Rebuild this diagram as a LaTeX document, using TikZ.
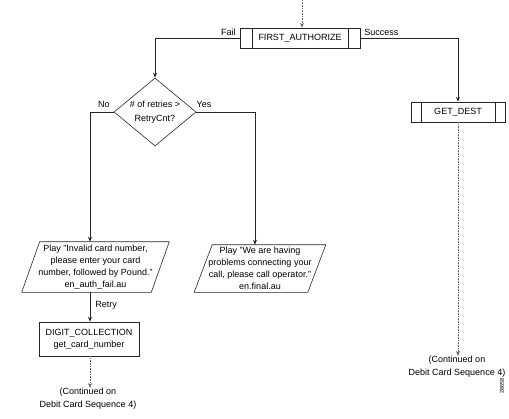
\documentclass[tikz,border=0pt]{standalone}
\usepackage{fontspec}
\setmainfont{Liberation Sans}
\usetikzlibrary{shapes.geometric,arrows.meta}
\begin{document}
\begin{tikzpicture}[x=1pt,y=-1pt,
  line width=0.6pt,
  every node/.style={font=\fontsize{9}{12}\selectfont, inner sep=0pt},
  arr/.style={draw=black!85, -{Stealth[length=5pt,width=4pt]}},
  dots/.style={draw=black!60, densely dotted, -{Stealth[length=5pt,width=4pt]}},
  proc/.style={draw=black!85, rectangle, minimum width=#1, minimum height=20pt},
  para/.style={rectangle, align=center},
  lbl/.style={font=\fontsize{9}{11}\selectfont},
  cont/.style={align=center, font=\fontsize{9}{13}\selectfont},
  box/.style={draw=black!85, rectangle, align=center},
]
\useasboundingbox (0,0) rectangle (509,418);

% FIRST_AUTHORIZE
\node[proc=120] (fa) at (300,38) {FIRST\_AUTHORIZE};
\draw[black!85] ([xshift=13pt]fa.north west) -- ([xshift=13pt]fa.south west);
\draw[black!85] ([xshift=-12pt]fa.north east) -- ([xshift=-12pt]fa.south east);
\coordinate (top) at (302,0);
\draw[dots] (top) -- (top |- fa.north);

% GET_DEST
\node[proc=94] (gd) at (458,112) {GET\_DEST};
\draw[black!85] ([xshift=11pt]gd.north west) -- ([xshift=11pt]gd.south west);
\draw[black!85] ([xshift=-10pt]gd.north east) -- ([xshift=-10pt]gd.south east);

% diamond
\node[diamond, draw=black!85, aspect=1.4, minimum width=82pt, minimum height=68pt, align=center] (d) at (155,112) {\# of retries >\\[2pt]RetryCnt?};

% left parallelogram
\node[para, minimum width=129pt, minimum height=50pt] (p1) at (95.5,267)
  {Play "Invalid card number,\\please enter your card\\number, followed by Pound."\\en\_auth\_fail.au};
\draw[black!85] ([xshift=-9pt]p1.south west) -- ([xshift=9pt]p1.north west) -- ([xshift=9pt]p1.north east) -- ([xshift=-9pt]p1.south east) -- cycle;

% right parallelogram
\node[para, minimum width=113pt, minimum height=47pt] (p2) at (260,268.5)
  {Play "We are having\\problems connecting your\\call, please call operator."\\en.final.au};
\draw[black!85] ([xshift=-9pt]p2.south west) -- ([xshift=9pt]p2.north west) -- ([xshift=9pt]p2.north east) -- ([xshift=-9pt]p2.south east) -- cycle;

% DIGIT_COLLECTION
\node[box, minimum width=100pt, minimum height=34pt] (dc) at (89,339) {DIGIT\_COLLECTION\\get\_card\_number};

% continued texts
\node[cont, anchor=north] (c1) at (88,388) {(Continued on\\Debit Card Sequence 4)};
\node[cont, anchor=north] (c2) at (457,356) {(Continued on\\Debit Card Sequence 4)};

% id number
\node[rotate=90, font=\fontsize{5.5}{6}\selectfont] (id) at (502,386) {28658};

% connectors
\draw[arr] (fa.west) -| (d.north);
\draw[arr] (fa.east) -| (gd.north);
\node[lbl, anchor=base east] (fail) at (236,35) {Fail};
\node[lbl, anchor=base west] (succ) at (364,35) {Success};

\draw[arr] (d.west) -| ([xshift=-5.5pt]p1.north);
\draw[arr] (d.east) -| ([xshift=-5pt]p2.north);
\node[lbl, anchor=base] (no) at (104,107) {No};
\node[lbl, anchor=base] (yes) at (204,107) {Yes};

\draw[arr] ([xshift=-5.5pt]p1.south) -- ([xshift=-5.5pt]p1.south |- dc.north);
\node[lbl, anchor=base west] (retry) at (95,307) {Retry};

\draw[dots] ([xshift=1pt]dc.south) -- ([xshift=1pt]dc.south |- c1.north);
\draw[dots] (gd.south) -- (gd.south |- c2.north);
\end{tikzpicture}
\end{document}
